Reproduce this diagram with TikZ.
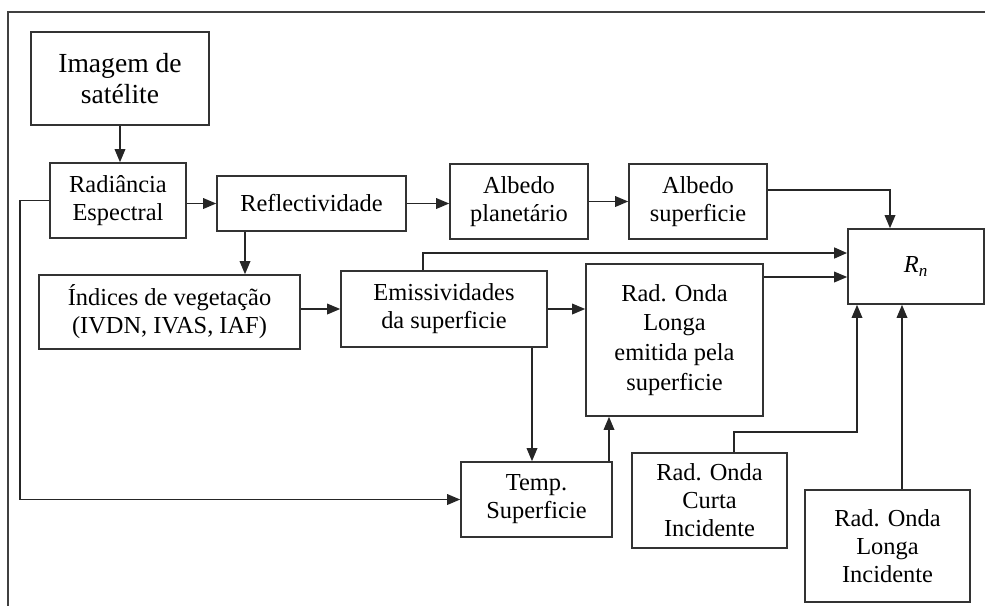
\documentclass[tikz,border=0pt]{standalone}
\usepackage{fontspec}
\setmainfont{Liberation Serif}
\usetikzlibrary{positioning,arrows.meta,calc}

\begin{document}
\begin{tikzpicture}[x=0.02cm, y=-0.02cm, font=\fontsize{13.9}{16}\selectfont,
  box/.style={draw=black!80, line width=0.9pt, align=center, inner sep=0pt},
  arr/.style={draw=black!85, line width=1pt, -{Triangle[length=2.6mm, width=2.1mm]}},
  thickarr/.style={arr, line width=1.5pt}]
\useasboundingbox (0,0) rectangle (985,606);
\draw[line width=1.6pt, black!75] (985,12) -- (8,12) -- (8,606);
\node[box, minimum width=3.56cm, minimum height=1.86cm, font=\fontsize{15.7}{17.5}\selectfont] (img) at (120,78.5) {Imagem de\\satélite};
\node[box, minimum width=2.72cm, minimum height=1.5cm] (rad) at (118,200.5) {Radiância\\Espectral};
\node[box, minimum width=3.78cm, minimum height=1.1cm] (refl) at (311.5,203.5) {Reflectividade};
\node[box, minimum width=2.76cm, minimum height=1.5cm] (albp) at (519,201.5) {Albedo\\planetário};
\node[box, minimum width=2.76cm, minimum height=1.5cm] (albs) at (698,201.5) {Albedo\\superficie};
\node[box, minimum width=2.72cm, minimum height=1.5cm] (rn) at (916,266.5) {\textit{R}\textsubscript{\textit{n}}};
\node[box, minimum width=5.22cm, minimum height=1.48cm] (ind) at (169.5,312) {Índices de vegetação\\(IVDN, IVAS, IAF)};
\node[box, minimum width=4.12cm, minimum height=1.52cm] (emis) at (444,309) {Emissividades\\da superficie};
\node[box, minimum width=3.54cm, minimum height=3.04cm, font=\fontsize{13.9}{17}\selectfont] (rol) at (674.5,340) {Rad. Onda\\Longa\\emitida pela\\superficie};
\node[box, minimum width=3.02cm, minimum height=1.5cm] (temp) at (536.5,499.5) {Temp.\\Superficie};
\node[box, minimum width=3.1cm, minimum height=1.9cm] (roc) at (709.5,500.5) {Rad. Onda\\Curta\\Incidente};
\node[box, minimum width=3.3cm, minimum height=2.24cm] (rli) at (887.5,546) {Rad. Onda\\Longa\\Incidente};
\coordinate (r6) at ($(refl.south)+(-66.5,0)$);
\coordinate (e9) at ($(rn.west)+(0,-13.5)$);
\coordinate (o10) at ($(rn.west)+(0,10.5)$);
\coordinate (e11) at ($(emis.south)+(88,0)$);
\coordinate (t13) at ($(temp.north)+(72.5,0)$);
\coordinate (c14) at ($(rn.south)+(-59,0)$);
\coordinate (l15) at ($(rli.north)+(14.5,0)$);
\draw[arr] (img.south) -- (img.south |- rad.north);
\draw[arr] (rad.east |- refl.west) -- (refl.west);
\draw[arr] (refl.east) -- (refl.east -| albp.west);
\draw[arr] (albp.east) -- (albs.west);
\draw[arr] ($(albs.east)+(0,-11.5)$) -| ($(rn.north)+(-26,0)$);
\draw[arr] (r6) -- (r6 |- ind.north);
\draw[arr] (emis.west -| ind.east) -- (emis.west);
\draw[arr] (emis.east) -- (emis.east -| rol.west);
\draw[thickarr] ($(emis.north)+(-21,0)$) |- (e9);
\draw[arr] (rol.east |- o10) -- (o10);
\draw[arr] (e11) -- (e11 |- temp.north);
\draw[arr] (rad.west) -- ++(-29,0) |- (temp.west);
\draw[arr] (t13) -- (t13 |- rol.south);
\draw[arr] ($(roc.north)+(24.5,0)$) -- ++(0,-20) -| (c14);
\draw[arr] (l15) -- (l15 |- rn.south);
\end{tikzpicture}
\end{document}
